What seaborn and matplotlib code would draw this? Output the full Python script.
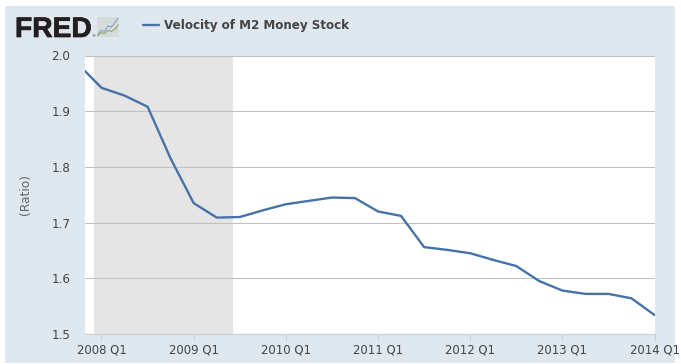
import matplotlib
matplotlib.use('Agg')
import matplotlib.pyplot as plt
import matplotlib.patheffects as pe
from matplotlib.patches import Rectangle
import pandas as pd
import seaborn as sns

# values
series_name = 'Velocity of M2 Money Stock'
quarter_idx = list(range(-1, 25))
velocity = [1.984, 1.942, 1.928, 1.908, 1.815, 1.735, 1.709, 1.710, 1.722,
            1.733, 1.739, 1.745, 1.744, 1.720, 1.712, 1.656, 1.651, 1.645,
            1.633, 1.622, 1.595, 1.578, 1.572, 1.572, 1.564, 1.534]
tick_quarters = [0, 4, 8, 12, 16, 20, 24]
tick_labels = ['2008 Q1', '2009 Q1', '2010 Q1', '2011 Q1', '2012 Q1', '2013 Q1', '2014 Q1']
y_ticks = [1.5, 1.6, 1.7, 1.8, 1.9, 2.0]
recession = (-0.33, 5.71)

# little chart in the logo
logo_x = [0, 1, 2, 3, 4, 5, 6]
logo_blue = [1, 3, 2.5, 5, 4.5, 6.5, 8.5]
logo_green = [0.5, 2, 1.5, 3, 2.5, 3.5, 5.5]

W, H = 681, 364
panel_col = '#dfe7ef'
text_col = '#444444'
line_col = '#4572a7'

sns.set_theme(style='white')
plt.rcParams['font.family'] = ['DejaVu Sans']

fig = plt.figure(figsize=(W / 100, H / 100), dpi=100, facecolor='white')
fig.add_artist(Rectangle((5 / W, 1 / H), 670 / W, 357 / H, transform=fig.transFigure,
                         facecolor=panel_col, edgecolor='none', zorder=-5))

ax = fig.add_axes([85 / W, 1 - 334 / H, 570 / W, 278.5 / H])
ax.set_facecolor('white')

df = pd.DataFrame({'quarter': quarter_idx, 'velocity': velocity})
ax.axvspan(recession[0], recession[1], color='#e5e5e5', lw=0, zorder=0)
ax.set_yticks(y_ticks)
ax.grid(axis='y', color='#c0c0c0', lw=0.75)
ax.grid(axis='x', visible=False)
ax.set_axisbelow(True)
sns.lineplot(data=df, x='quarter', y='velocity', color=line_col, lw=1.7, ax=ax, zorder=3)

ax.set_xlim(-0.716, 24.02)
ax.set_ylim(1.5, 2.0)
ax.set_xticks(tick_quarters)
ax.set_xticklabels(tick_labels)
ax.set_yticklabels(['%.1f' % v for v in y_ticks])
ax.tick_params(axis='x', bottom=True, length=5, width=0.75, color='#c0d0e0', pad=2,
               labelsize=8.4, labelcolor=text_col)
ax.tick_params(axis='y', left=False, length=0, pad=10.5, labelsize=8.6, labelcolor=text_col)
ax.set_xlabel('')
ax.set_ylabel('(Ratio)', fontsize=8.8, color='#666666')
ax.yaxis.set_label_coords((32 - 85) / 570, 0.5)
for s in ['top', 'left', 'right']:
    ax.spines[s].set_visible(False)
ax.spines['bottom'].set_color('#c0d0e0')
ax.spines['bottom'].set_linewidth(0.75)

# logo
fig.text(15 / W, 1 - 37 / H, 'FRED', family='Liberation Sans', weight='bold', fontsize=20.3,
         color='#231f20', path_effects=[pe.withStroke(linewidth=0.5, foreground='#231f20')])
fig.text(91 / W, 1 - 37 / H, '®', fontsize=3, color='#231f20')
lg = fig.add_axes([97 / W, 1 - 37 / H, 22 / W, 20 / H])
lg.set_facecolor('#d5dadb')
sns.lineplot(x=logo_x, y=logo_blue, color='#6f93b8', lw=0.6, ax=lg)
sns.lineplot(x=logo_x, y=logo_green, color='#7f9a45', lw=0.6, ax=lg)
lg.set_xlim(-0.2, 6.2)
lg.set_ylim(0, 9)
lg.set_xticks([])
lg.set_yticks([])
lg.set_xlabel('')
lg.set_ylabel('')
sns.despine(ax=lg, left=True, bottom=True)

# legend, by hand since it sits next to the logo
fig.add_artist(plt.Line2D([143 / W, 159 / W], [1 - 25 / H, 1 - 25 / H], color=line_col, lw=1.7))
fig.text(164 / W, 1 - 25 / H, series_name, fontsize=8.55, weight='bold', color=text_col, va='center')

fig.savefig('out.png', dpi=100)
